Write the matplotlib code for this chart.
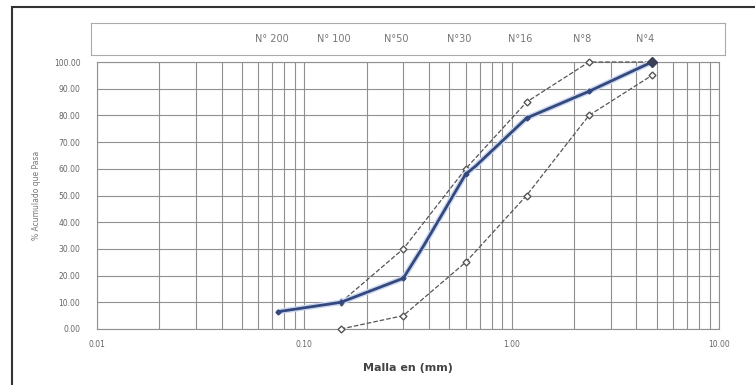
import matplotlib.pyplot as plt
from matplotlib.patches import Rectangle

# Sample gradation (solid line)
sample_mm = [0.075, 0.15, 0.30, 0.375, 0.60, 0.67, 1.18, 2.36, 4.75]
sample_pass = [6.5, 10.0, 19.0, 31.0, 58.0, 61.0, 79.0, 89.0, 100.0]

# Specification limits (dashed lines)
limit_mm = [0.15, 0.30, 0.60, 1.18, 2.36, 4.75]
upper_pass = [10.0, 30.0, 60.0, 85.0, 100.0, 100.0]
lower_pass = [0.0, 5.0, 25.0, 50.0, 80.0, 95.0]

# Sieve names shown in the header box
sieve_names = ["N° 200", "N° 100", "N°50", "N°30", "N°16", "N°8", "N°4"]
sieve_mm = [0.075, 0.15, 0.30, 0.60, 1.18, 2.36, 4.75]

y_ticks = [0, 10, 20, 30, 40, 50, 60, 70, 80, 90, 100]
x_ticks = [0.01, 0.1, 1, 10]

fig = plt.figure(figsize=(7.55, 3.85), dpi=100)
ax = fig.add_axes([97 / 755, 1 - 329 / 385, 622 / 755, 267 / 385])

ax.set_xscale("log")
ax.set_xlim(0.01, 10)
ax.set_ylim(0, 100)

ax.grid(True, which="both", color="#909090", linewidth=0.8)
for s in ax.spines.values():
    s.set_color("#909090")
    s.set_linewidth(0.8)

ax.plot(limit_mm, upper_pass, linestyle="--", color="#555555", linewidth=0.9,
        marker="D", markersize=3.5, markerfacecolor="white", markeredgecolor="#555555",
        zorder=3, clip_on=False)
ax.plot(limit_mm, lower_pass, linestyle="--", color="#555555", linewidth=0.9,
        marker="D", markersize=3.5, markerfacecolor="white", markeredgecolor="#555555",
        zorder=3, clip_on=False)

# light halo then the dark blue line
ax.plot(sample_mm, sample_pass, color="#cbd8f0", linewidth=4, zorder=4,
        solid_capstyle="round", clip_on=False)
ax.plot(sample_mm, sample_pass, color="#34487e", linewidth=2.0, zorder=5,
        marker="D", markersize=2.5, markevery=[0, 1, 2, 4, 6, 7], clip_on=False)
ax.plot([sample_mm[-1]], [sample_pass[-1]], marker="D", markersize=5, color="#3a3f55",
        zorder=6, clip_on=False)

ax.set_yticks(y_ticks)
ax.set_yticklabels([f"{v:.2f}" for v in y_ticks])
ax.set_xticks(x_ticks)
ax.set_xticklabels([f"{v:.2f}" for v in x_ticks])
ax.tick_params(axis="both", which="both", length=0, labelsize=5.5, labelcolor="#666666")
ax.tick_params(axis="x", pad=8)
ax.tick_params(axis="y", pad=12)

ax.set_xlabel("Malla en (mm)", fontsize=8, fontweight="bold", color="#444444", labelpad=10)
ax.set_ylabel("% Acumulado que Pasa", fontsize=5.5, color="#777777", labelpad=9)

# header box with sieve names
hdr = fig.add_axes([91 / 755, 1 - 55 / 385, 634 / 755, 32 / 385])
hdr.set_xscale("log")
lo = 10 ** (-2 - 6 / 207.4)
hi = 10 ** (1 + 6 / 207.4)
hdr.set_xlim(lo, hi)
hdr.set_ylim(0, 1)
hdr.set_xticks([])
hdr.set_xticks([], minor=True)
hdr.set_yticks([])
for s in hdr.spines.values():
    s.set_color("#aaaaaa")
    s.set_linewidth(0.8)
for name, mm in zip(sieve_names, sieve_mm):
    hdr.text(mm * 0.93, 0.5, name, ha="center", va="center", fontsize=7, color="#777777")

# outer frame
fig.patches.append(Rectangle((12 / 755, -0.05), 1.0, 1 - 7 / 385 + 0.05,
                             transform=fig.transFigure, fill=False,
                             edgecolor="#333333", linewidth=1.5))

fig.savefig("out.png", dpi=100)
